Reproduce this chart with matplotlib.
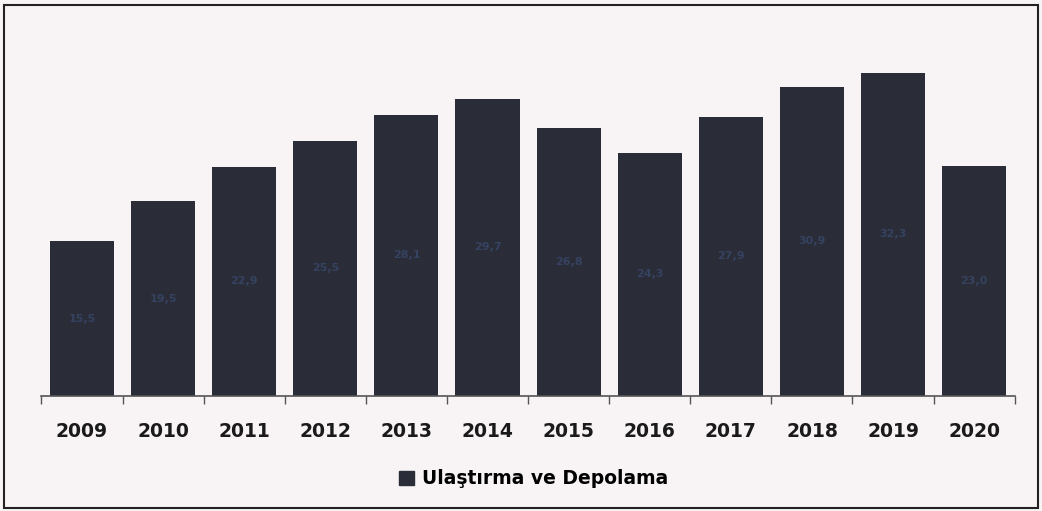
import numpy as np
import matplotlib
matplotlib.use("Agg")
import matplotlib.pyplot as plt
from matplotlib.patches import Rectangle

years = ["2009", "2010", "2011", "2012", "2013", "2014", "2015", "2016", "2017", "2018", "2019", "2020"]
values = [15.5, 19.5, 22.9, 25.5, 28.1, 29.7, 26.8, 24.3, 27.9, 30.9, 32.3, 23.0]
series_name = "Ulaştırma ve Depolama"

bar_color = "#2a2c38"
bg = "#f8f3f5"

fig = plt.figure(figsize=(10.42, 5.11), dpi=100)
fig.patch.set_facecolor(bg)
ax = fig.add_axes([0.0398, 0.225, 0.934, 0.736])
ax.set_facecolor(bg)

x = np.arange(len(years))
bars = ax.bar(x, values, width=0.79, color=bar_color, zorder=2)

# faint value labels inside bars (barely visible in the scan)
for xi, v in zip(x, values):
    ax.text(xi, v / 2, f"{v:.1f}".replace(".", ","), ha="center", va="center",
            fontsize=8, color="#354260", fontweight="bold", zorder=3)

ax.set_xlim(-0.5, len(years) - 0.5)
ax.set_ylim(0, 37.6)
ax.set_yticks([])
for s in ["top", "right", "left"]:
    ax.spines[s].set_visible(False)
ax.spines["bottom"].set_color("#555555")
ax.spines["bottom"].set_linewidth(1.2)

ax.set_xticks(np.arange(-0.5, len(years) + 0.5, 1.0), minor=False)
ax.set_xticklabels([])
ax.tick_params(axis="x", which="major", length=6, color="#555555", width=1.0)
ax.set_xticks(x, minor=True)
ax.set_xticklabels(years, minor=True, fontsize=13.5, fontweight="bold", color="#1a1a1a")
ax.tick_params(axis="x", which="minor", length=0, pad=19)

# legend
leg = fig.legend([Rectangle((0, 0), 1, 1, color=bar_color)], [series_name],
                 loc="center", bbox_to_anchor=(0.512, 0.063), frameon=False,
                 prop={"size": 13.5, "weight": "bold"}, handlelength=0.8, handleheight=0.8,
                 handletextpad=0.4)

# outer frame
fig.add_artist(Rectangle((0.004, 0.006), 0.992, 0.985, transform=fig.transFigure,
                         fill=False, edgecolor="#222222", linewidth=1.5))

fig.savefig("out.png", dpi=100, facecolor=bg)
